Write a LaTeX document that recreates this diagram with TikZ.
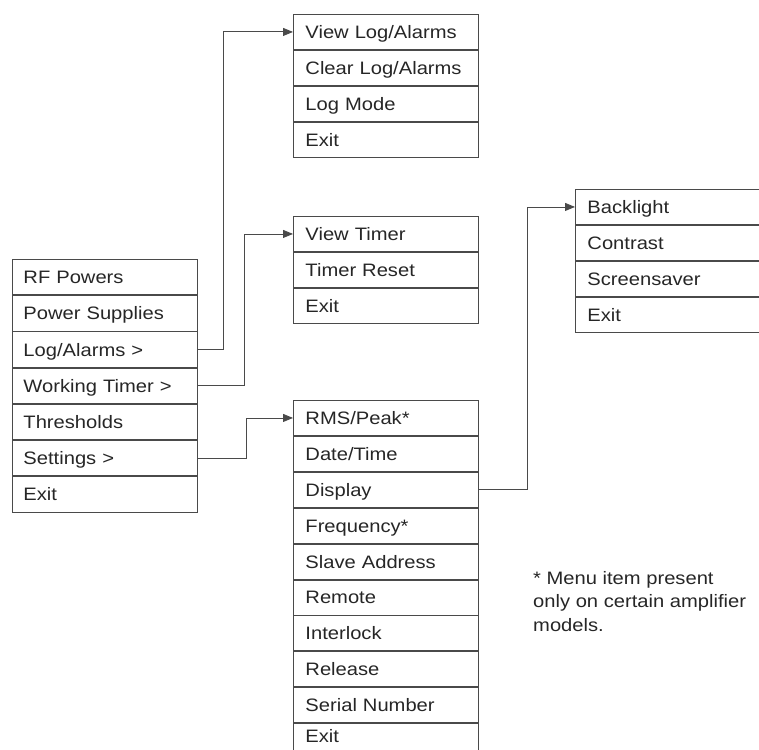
\documentclass[tikz,border=0pt]{standalone}
\usepackage{fontspec}
\setmainfont{Liberation Sans}[FakeStretch=1.12]
\usetikzlibrary{arrows.meta}
\definecolor{ink}{HTML}{262626}
\definecolor{rulec}{HTML}{4A4A4A}
\tikzset{
  item/.style={draw=rulec, line width=0.9pt, rectangle, minimum height=35pt,
    text width=161pt, inner xsep=12pt, inner ysep=0pt, align=left,
    text height=15pt, text depth=2pt,
    anchor=north west, font=\fontsize{18pt}{20pt}\selectfont, text=ink},
  mainitem/.style={item, minimum height=35.3pt, text width=163pt, inner xsep=11pt},
  lastitem/.style={item, text height=10pt, text depth=7pt},
  link/.style={draw=rulec, line width=0.9pt, -{Triangle[length=10pt,width=8pt]}},
  note/.style={anchor=north west, inner sep=0pt, align=left, text=ink,
    font=\fontsize{18pt}{23.5pt}\selectfont}
}
\begin{document}
\begin{tikzpicture}[x=1pt,y=1pt]
\useasboundingbox (0,0) rectangle (759,-749);
% main menu
\node[mainitem] (m1) at (12,-259) {RF Powers};
\node[mainitem] (m2) at (m1.south west) {Power Supplies};
\node[mainitem] (m3) at (m2.south west) {Log/Alarms >};
\node[mainitem] (m4) at (m3.south west) {Working Timer >};
\node[mainitem] (m5) at (m4.south west) {Thresholds};
\node[mainitem] (m6) at (m5.south west) {Settings >};
\node[mainitem] (m7) at (m6.south west) {Exit};
% log menu
\node[item] (l1) at (293,-14) {View Log/Alarms};
\node[item] (l2) at (l1.south west) {Clear Log/Alarms};
\node[item] (l3) at (l2.south west) {Log Mode};
\node[item] (l4) at (l3.south west) {Exit};
% timer menu
\node[item] (t1) at (293,-216) {View Timer};
\node[item] (t2) at (t1.south west) {Timer Reset};
\node[item] (t3) at (t2.south west) {Exit};
% settings menu
\node[item] (s1) at (293,-400) {RMS/Peak*};
\node[item] (s2) at (s1.south west) {Date/Time};
\node[item] (s3) at (s2.south west) {Display};
\node[item] (s4) at (s3.south west) {Frequency*};
\node[item] (s5) at (s4.south west) {Slave Address};
\node[item] (s6) at (s5.south west) {Remote};
\node[item] (s7) at (s6.south west) {Interlock};
\node[item] (s8) at (s7.south west) {Release};
\node[item] (s9) at (s8.south west) {Serial Number};
\node[lastitem] (s10) at (s9.south west) {Exit};
% display menu
\node[item] (d1) at (575,-189) {Backlight};
\node[item] (d2) at (d1.south west) {Contrast};
\node[item] (d3) at (d2.south west) {Screensaver};
\node[item] (d4) at (d3.south west) {Exit};
% connectors
\draw[link] (m3.east) -- ++(26,0) |- (l1.west);
\draw[link] (m4.east) -- ++(47,0) |- (t1.west);
\draw[link] (m6.east) -- ++(49,0) |- (s1.west);
\draw[link] (s3.east) -- ++(49,0) |- (d1.west);
% footnote
\node[note] (fn) at (533,-571) {* Menu item present\\only on certain amplifier\\models.};
\end{tikzpicture}
\end{document}
